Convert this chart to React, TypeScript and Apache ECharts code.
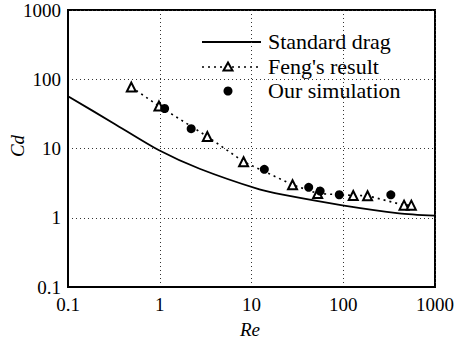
import React, { useEffect, useRef } from "react";
import * as echarts from "echarts";

const stdRe = [0.1, 0.316, 0.97, 2.72, 12.2, 21.9, 98, 406, 1000];
const stdCd = [57, 23, 9.5, 5.1, 2.56, 2.15, 1.51, 1.16, 1.07];

const fengRe = [0.49, 0.98, 3.3, 8.2, 28, 52.6, 128.5, 184, 460, 552];
const fengCd = [77, 41, 14.9, 6.45, 3.0, 2.24, 2.1, 2.08, 1.52, 1.52];

const simRe = [1.13, 2.2, 13.8, 42, 56, 90.5, 330];
const simCd = [37.8, 19.3, 5.0, 2.75, 2.43, 2.15, 2.14];

const seriesNames = ["Standard drag", "Feng's result", "Our simulation"];
const axisMin = 0.1;
const axisMax = 1000;

const FONT = "'Liberation Serif', 'DejaVu Serif', serif";

export default function App() {
  const ref = useRef<HTMLDivElement>(null);
  useEffect(() => {
    if (!ref.current) return;
    const chart = echarts.init(ref.current, null, { renderer: "svg" });
    const pairs = (xs: number[], ys: number[]) => xs.map((x, i) => [x, ys[i]]);
    const legendTextStyle = { fill: "#000", font: `20px ${FONT}` };
    const fmt = (v: number) => String(v);
    chart.setOption({
      animation: false,
      backgroundColor: "#fff",
      grid: {
        left: 68,
        right: 21,
        top: 10,
        bottom: 51,
        show: true,
        borderColor: "#000",
        borderWidth: 2,
      },
      xAxis: {
        type: "log",
        logBase: 10,
        min: axisMin,
        max: axisMax,
        axisLine: { show: true, lineStyle: { color: "#000", width: 2 } },
        axisTick: { show: false },
        axisLabel: {
          color: "#000",
          fontFamily: FONT,
          fontSize: 19,
          margin: 8,
          formatter: fmt,
        },
        splitLine: {
          show: true,
          lineStyle: { color: "#333", width: 1, type: [1, 3] },
        },
      },
      yAxis: {
        type: "log",
        logBase: 10,
        min: axisMin,
        max: axisMax,
        axisLine: { show: true, lineStyle: { color: "#000", width: 2 } },
        axisTick: { show: false },
        axisLabel: {
          color: "#000",
          fontFamily: FONT,
          fontSize: 19,
          margin: 7,
          formatter: fmt,
        },
        splitLine: {
          show: true,
          lineStyle: { color: "#333", width: 1, type: [1, 3] },
        },
      },
      series: [
        {
          name: seriesNames[0],
          type: "line",
          data: pairs(stdRe, stdCd),
          smooth: 0.25,
          showSymbol: false,
          symbol: "none",
          lineStyle: { color: "#000", width: 1.8 },
          z: 2,
        },
        {
          name: seriesNames[1],
          type: "line",
          data: pairs(fengRe, fengCd),
          symbol: "triangle",
          symbolSize: 9,
          showSymbol: true,
          lineStyle: { color: "#000", width: 1.6, type: [2, 4] },
          itemStyle: { color: "#fff", borderColor: "#000", borderWidth: 2, opacity: 1 },
          z: 3,
        },
        {
          name: seriesNames[2],
          type: "scatter",
          data: pairs(simRe, simCd),
          symbol: "circle",
          symbolSize: 9,
          itemStyle: { color: "#000", opacity: 1 },
          z: 4,
        },
      ],
      graphic: [
        { type: "line", shape: { x1: 202, y1: 42, x2: 261, y2: 42 }, style: { stroke: "#000", lineWidth: 1.8 } },
        { type: "text", x: 268, y: 42, scaleX: 1.1, style: { ...legendTextStyle, text: seriesNames[0], textVerticalAlign: "middle" } },
        { type: "line", shape: { x1: 202, y1: 67, x2: 262, y2: 67 }, style: { stroke: "#000", lineWidth: 1.6, lineDash: [2, 4] } },
        {
          type: "polygon",
          shape: { points: [[228, 62.5], [232.5, 70.5], [223.5, 70.5]] },
          style: { fill: "#fff", stroke: "#000", lineWidth: 2 },
        },
        { type: "text", x: 268, y: 67, scaleX: 1.1, style: { ...legendTextStyle, text: seriesNames[1], textVerticalAlign: "middle" } },
        { type: "circle", shape: { cx: 228, cy: 91, r: 4.5 }, style: { fill: "#000" } },
        { type: "text", x: 268, y: 91, scaleX: 1.1, style: { ...legendTextStyle, text: seriesNames[2], textVerticalAlign: "middle" } },
        {
          type: "text",
          x: 250,
          y: 329,
          style: { text: "Re", fill: "#000", font: `italic 19px ${FONT}`, textAlign: "center", textVerticalAlign: "middle" },
        },
        {
          type: "text",
          x: 17,
          y: 146,
          rotation: Math.PI / 2,
          style: { text: "Cd", fill: "#000", font: `italic 19px ${FONT}`, textAlign: "center", textVerticalAlign: "middle" },
        },
      ],
    });
    return () => chart.dispose();
  }, []);
  return (
    <div
      ref={ref}
      style={{ position: "fixed", left: 0, top: 0, width: 457, height: 338 }}
    />
  );
}
